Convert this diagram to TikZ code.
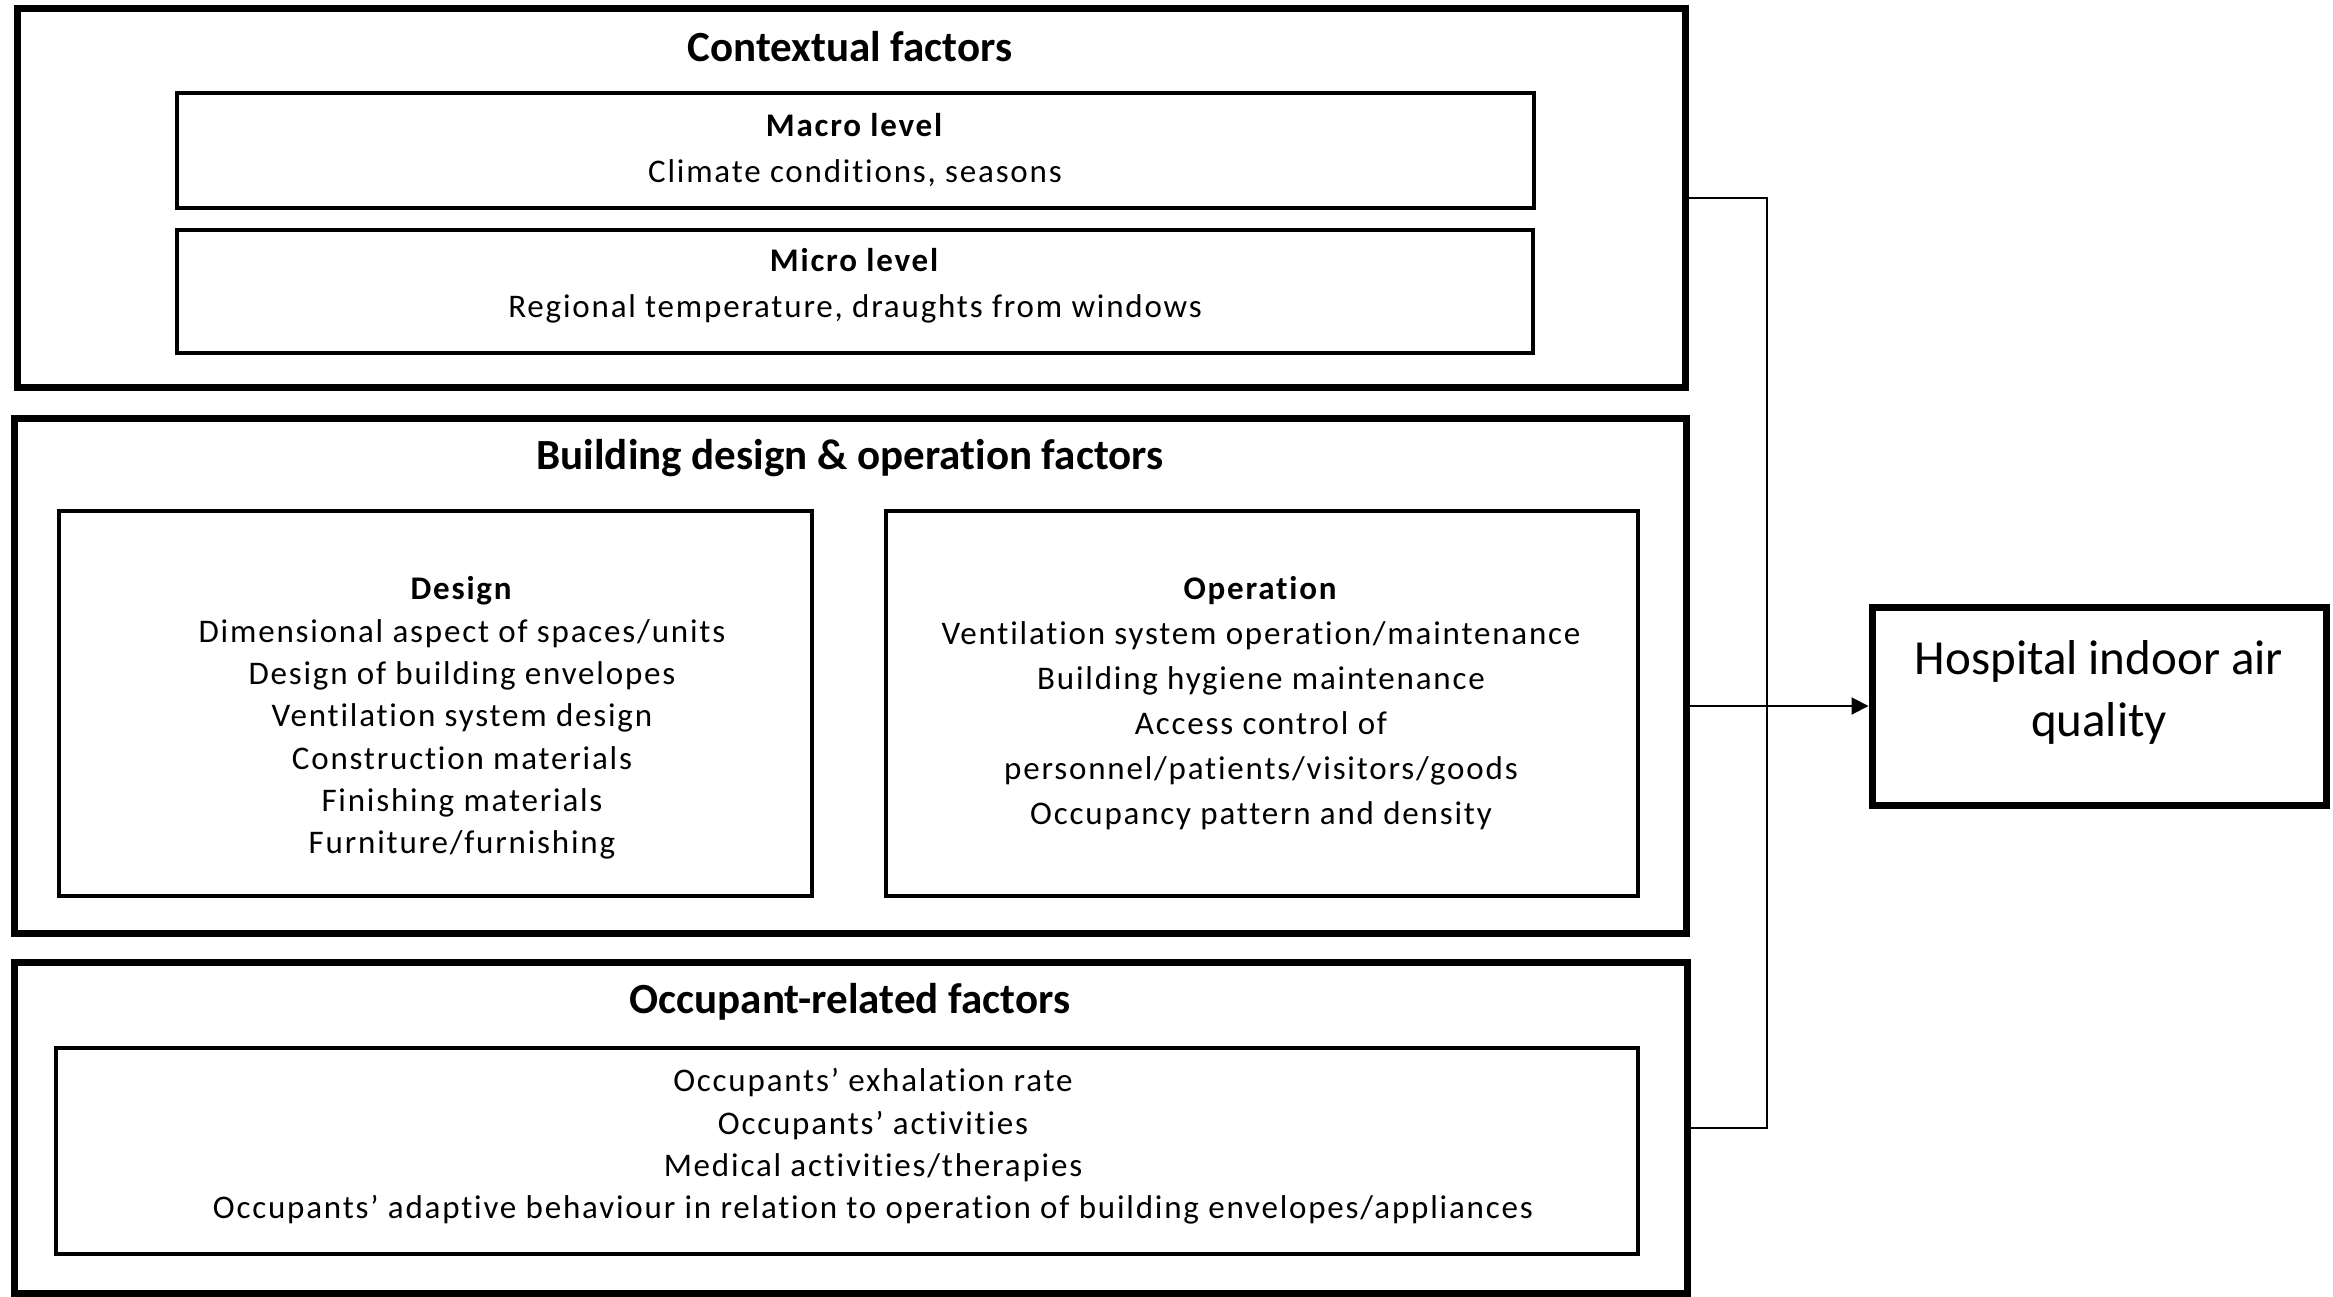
\documentclass[tikz,border=0pt]{standalone}
\usepackage{fontspec}
\setmainfont{Carlito}[Ligatures=CommonOff]
\newfontfamily\bodyfont{Carlito}[LetterSpace=5.5,Ligatures=CommonOff]
\usetikzlibrary{arrows.meta}
\begin{document}
\begin{tikzpicture}[x=1pt,y=-1pt,
  outerbox/.style={draw=black,line width=7pt,inner sep=0pt},
  innerbox/.style={draw=black,line width=3.5pt,inner sep=0pt},
  titletext/.style={font=\fontsize{43}{50}\selectfont\bfseries,inner sep=0pt},
  bodytext/.style={font=\bodyfont\fontsize{33}{42.3}\selectfont,align=center,inner sep=0pt},
  conn/.style={draw=black,line width=2pt}]
\useasboundingbox (0,0) rectangle (2333,1297);
% outer boxes
\node[outerbox,minimum width=1668pt,minimum height=378pt] (ctx) at (851,198) {};
\node[outerbox,minimum width=1672pt,minimum height=515pt] (bld) at (850,675.5) {};
\node[outerbox,minimum width=1673pt,minimum height=331pt] (occ) at (850.5,1127.5) {};
% inner boxes
\node[innerbox,minimum width=1357pt,minimum height=115pt] (macro) at (855.5,150.5) {};
\node[innerbox,minimum width=1356pt,minimum height=123pt] (micro) at (855,291.5) {};
\node[innerbox,minimum width=753pt,minimum height=385pt] (design) at (435.5,703.5) {};
\node[innerbox,minimum width=752pt,minimum height=385pt] (oper) at (1262,703.5) {};
\node[innerbox,minimum width=1582pt,minimum height=206pt] (occin) at (847,1151) {};
% target
\node[outerbox,minimum width=454pt,minimum height=198pt] (hosp) at (2099,706) {};
% titles
\node[titletext] (ctxt) at (850,47) {Contextual factors};
\node[titletext] (bldt) at (850,458) {Building design \& operation factors};
\node[titletext] (occt) at (850,1002) {Occupant-related factors};
% texts
\node[bodytext,font=\bodyfont\fontsize{33}{46}\selectfont] (macrot) at (855,150) {\textbf{Macro level}\\Climate conditions, seasons};
\node[bodytext,font=\bodyfont\fontsize{33}{46}\selectfont] (microt) at (855,286) {\textbf{Micro level}\\Regional temperature, draughts from windows};
\node[bodytext] (designt) at (462,718) {\textbf{Design}\\Dimensional aspect of spaces/units\\Design of building envelopes\\Ventilation system design\\Construction materials\\Finishing materials\\Furniture/furnishing};
\node[bodytext,font=\bodyfont\fontsize{33}{45}\selectfont] (opert) at (1261,703.5) {\textbf{Operation}\\Ventilation system operation/maintenance\\Building hygiene maintenance\\Access control of\\personnel/patients/visitors/goods\\Occupancy pattern and density};
\node[bodytext] (occtx) at (873,1146.5) {Occupants’ exhalation rate\\Occupants’ activities\\Medical activities/therapies\\Occupants’ adaptive behaviour in relation to operation of building envelopes/appliances};
\node[font=\fontsize{49}{62}\selectfont,align=center,inner sep=0pt] (hospt) at (2099,692.5) {Hospital indoor air\\quality};
% connectors
\coordinate (j) at (1767,708);
\draw[conn] (ctx.east) -| (j) |- (occ.east);
\draw[conn,-{Triangle[length=17pt,width=17pt]}] (bld.east |- hosp.west) -- (hosp.west);
\end{tikzpicture}
\end{document}
